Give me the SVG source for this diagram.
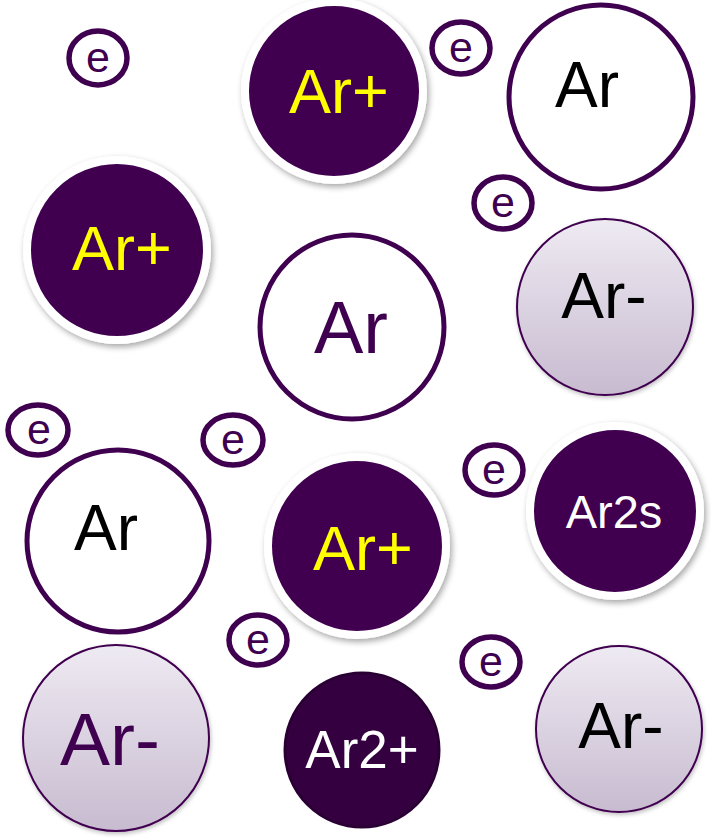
<svg xmlns="http://www.w3.org/2000/svg" width="711" height="839" viewBox="0 0 711 839">
<defs>
<linearGradient id="lg" x1="0" y1="0" x2="0" y2="1">
<stop offset="0" stop-color="#EEEAF2"/>
<stop offset="1" stop-color="#C8BBD0"/>
</linearGradient>
<filter id="sh" x="-20%" y="-20%" width="140%" height="140%">
<feGaussianBlur in="SourceAlpha" stdDeviation="3"/>
<feOffset dx="2" dy="3" result="b"/>
<feComponentTransfer><feFuncA type="linear" slope="0.35"/></feComponentTransfer>
<feMerge><feMergeNode/><feMergeNode in="SourceGraphic"/></feMerge>
</filter>
<filter id="sh2" x="-20%" y="-20%" width="140%" height="140%">
<feGaussianBlur in="SourceAlpha" stdDeviation="2"/>
<feOffset dx="1" dy="2" result="b"/>
<feComponentTransfer><feFuncA type="linear" slope="0.25"/></feComponentTransfer>
<feMerge><feMergeNode/><feMergeNode in="SourceGraphic"/></feMerge>
</filter>
</defs>
<style>
text{font-family:"Liberation Sans",Arial,sans-serif;text-anchor:middle}
.ion{fill:#400050;stroke:#ffffff;stroke-width:8;filter:url(#sh)}
.neu{fill:#ffffff;stroke:#400050;stroke-width:5}
.neg{fill:url(#lg);stroke:#400050;stroke-width:2;filter:url(#sh2)}
.el{fill:#ffffff;stroke:#400050;stroke-width:5.5}
.et{font-size:43px;fill:#400050}
.yt{font-size:63px;fill:#FFFF00}
.bt{font-size:64px;fill:#000000}
.wt{fill:#ffffff}
</style>
<rect width="711" height="839" fill="#ffffff"/>
<g id="connectors"></g>
<g id="e1"><ellipse class="el" cx="98" cy="58" rx="29" ry="27"/><text class="et" x="98" y="72">e</text></g>
<g id="ArPlus1"><circle class="ion" cx="334" cy="91" r="89"/><text class="yt" x="339" y="113">Ar+</text></g>
<g id="e2"><ellipse class="el" cx="461" cy="48" rx="29" ry="26"/><text class="et" x="461" y="62">e</text></g>
<g id="Ar1"><circle class="neu" cx="601" cy="97" r="92"/><text class="bt" x="587" y="107">Ar</text></g>
<g id="ArPlus2"><circle class="ion" cx="117" cy="250" r="90"/><text class="yt" x="122" y="270">Ar+</text></g>
<g id="e3"><ellipse class="el" cx="503" cy="203" rx="29" ry="26"/><text class="et" x="503" y="217">e</text></g>
<g id="Ar2"><circle class="neu" cx="352" cy="327" r="92"/><text x="351" y="353" style="font-size:74px;fill:#400050">Ar</text></g>
<g id="ArMinus1"><circle class="neg" cx="605" cy="307" r="88"/><text class="bt" x="604" y="318">Ar-</text></g>
<g id="e4"><ellipse class="el" cx="38" cy="430" rx="30" ry="25"/><text class="et" x="39" y="444">e</text></g>
<g id="e5"><ellipse class="el" cx="233" cy="440" rx="30" ry="25"/><text class="et" x="233" y="454">e</text></g>
<g id="e6"><ellipse class="el" cx="494" cy="470" rx="29" ry="25"/><text class="et" x="494" y="484">e</text></g>
<g id="Ar3"><circle class="neu" cx="118" cy="541" r="91"/><text class="bt" x="106" y="550">Ar</text></g>
<g id="ArPlus3"><circle class="ion" cx="357" cy="546" r="89"/><text class="yt" x="363" y="570">Ar+</text></g>
<g id="Ar2s"><circle class="ion" cx="615" cy="511" r="85"/><text class="wt" x="614" y="528" style="font-size:47px">Ar2s</text></g>
<g id="e7"><ellipse class="el" cx="258" cy="640" rx="29" ry="25"/><text class="et" x="258" y="654">e</text></g>
<g id="e8"><ellipse class="el" cx="491" cy="662" rx="29" ry="25"/><text class="et" x="491" y="676">e</text></g>
<g id="ArMinus2"><circle class="neg" cx="116" cy="738" r="93"/><text x="110" y="765" style="font-size:75px;fill:#400050">Ar-</text></g>
<g id="Ar2Plus"><circle cx="362" cy="750" r="77" fill="#340040" stroke="#2A0034" stroke-width="3"/><text class="wt" x="362" y="768" style="font-size:53px">Ar2+</text></g>
<g id="ArMinus3"><circle class="neg" cx="619" cy="729" r="83"/><text class="bt" x="621" y="748">Ar-</text></g>
</svg>
